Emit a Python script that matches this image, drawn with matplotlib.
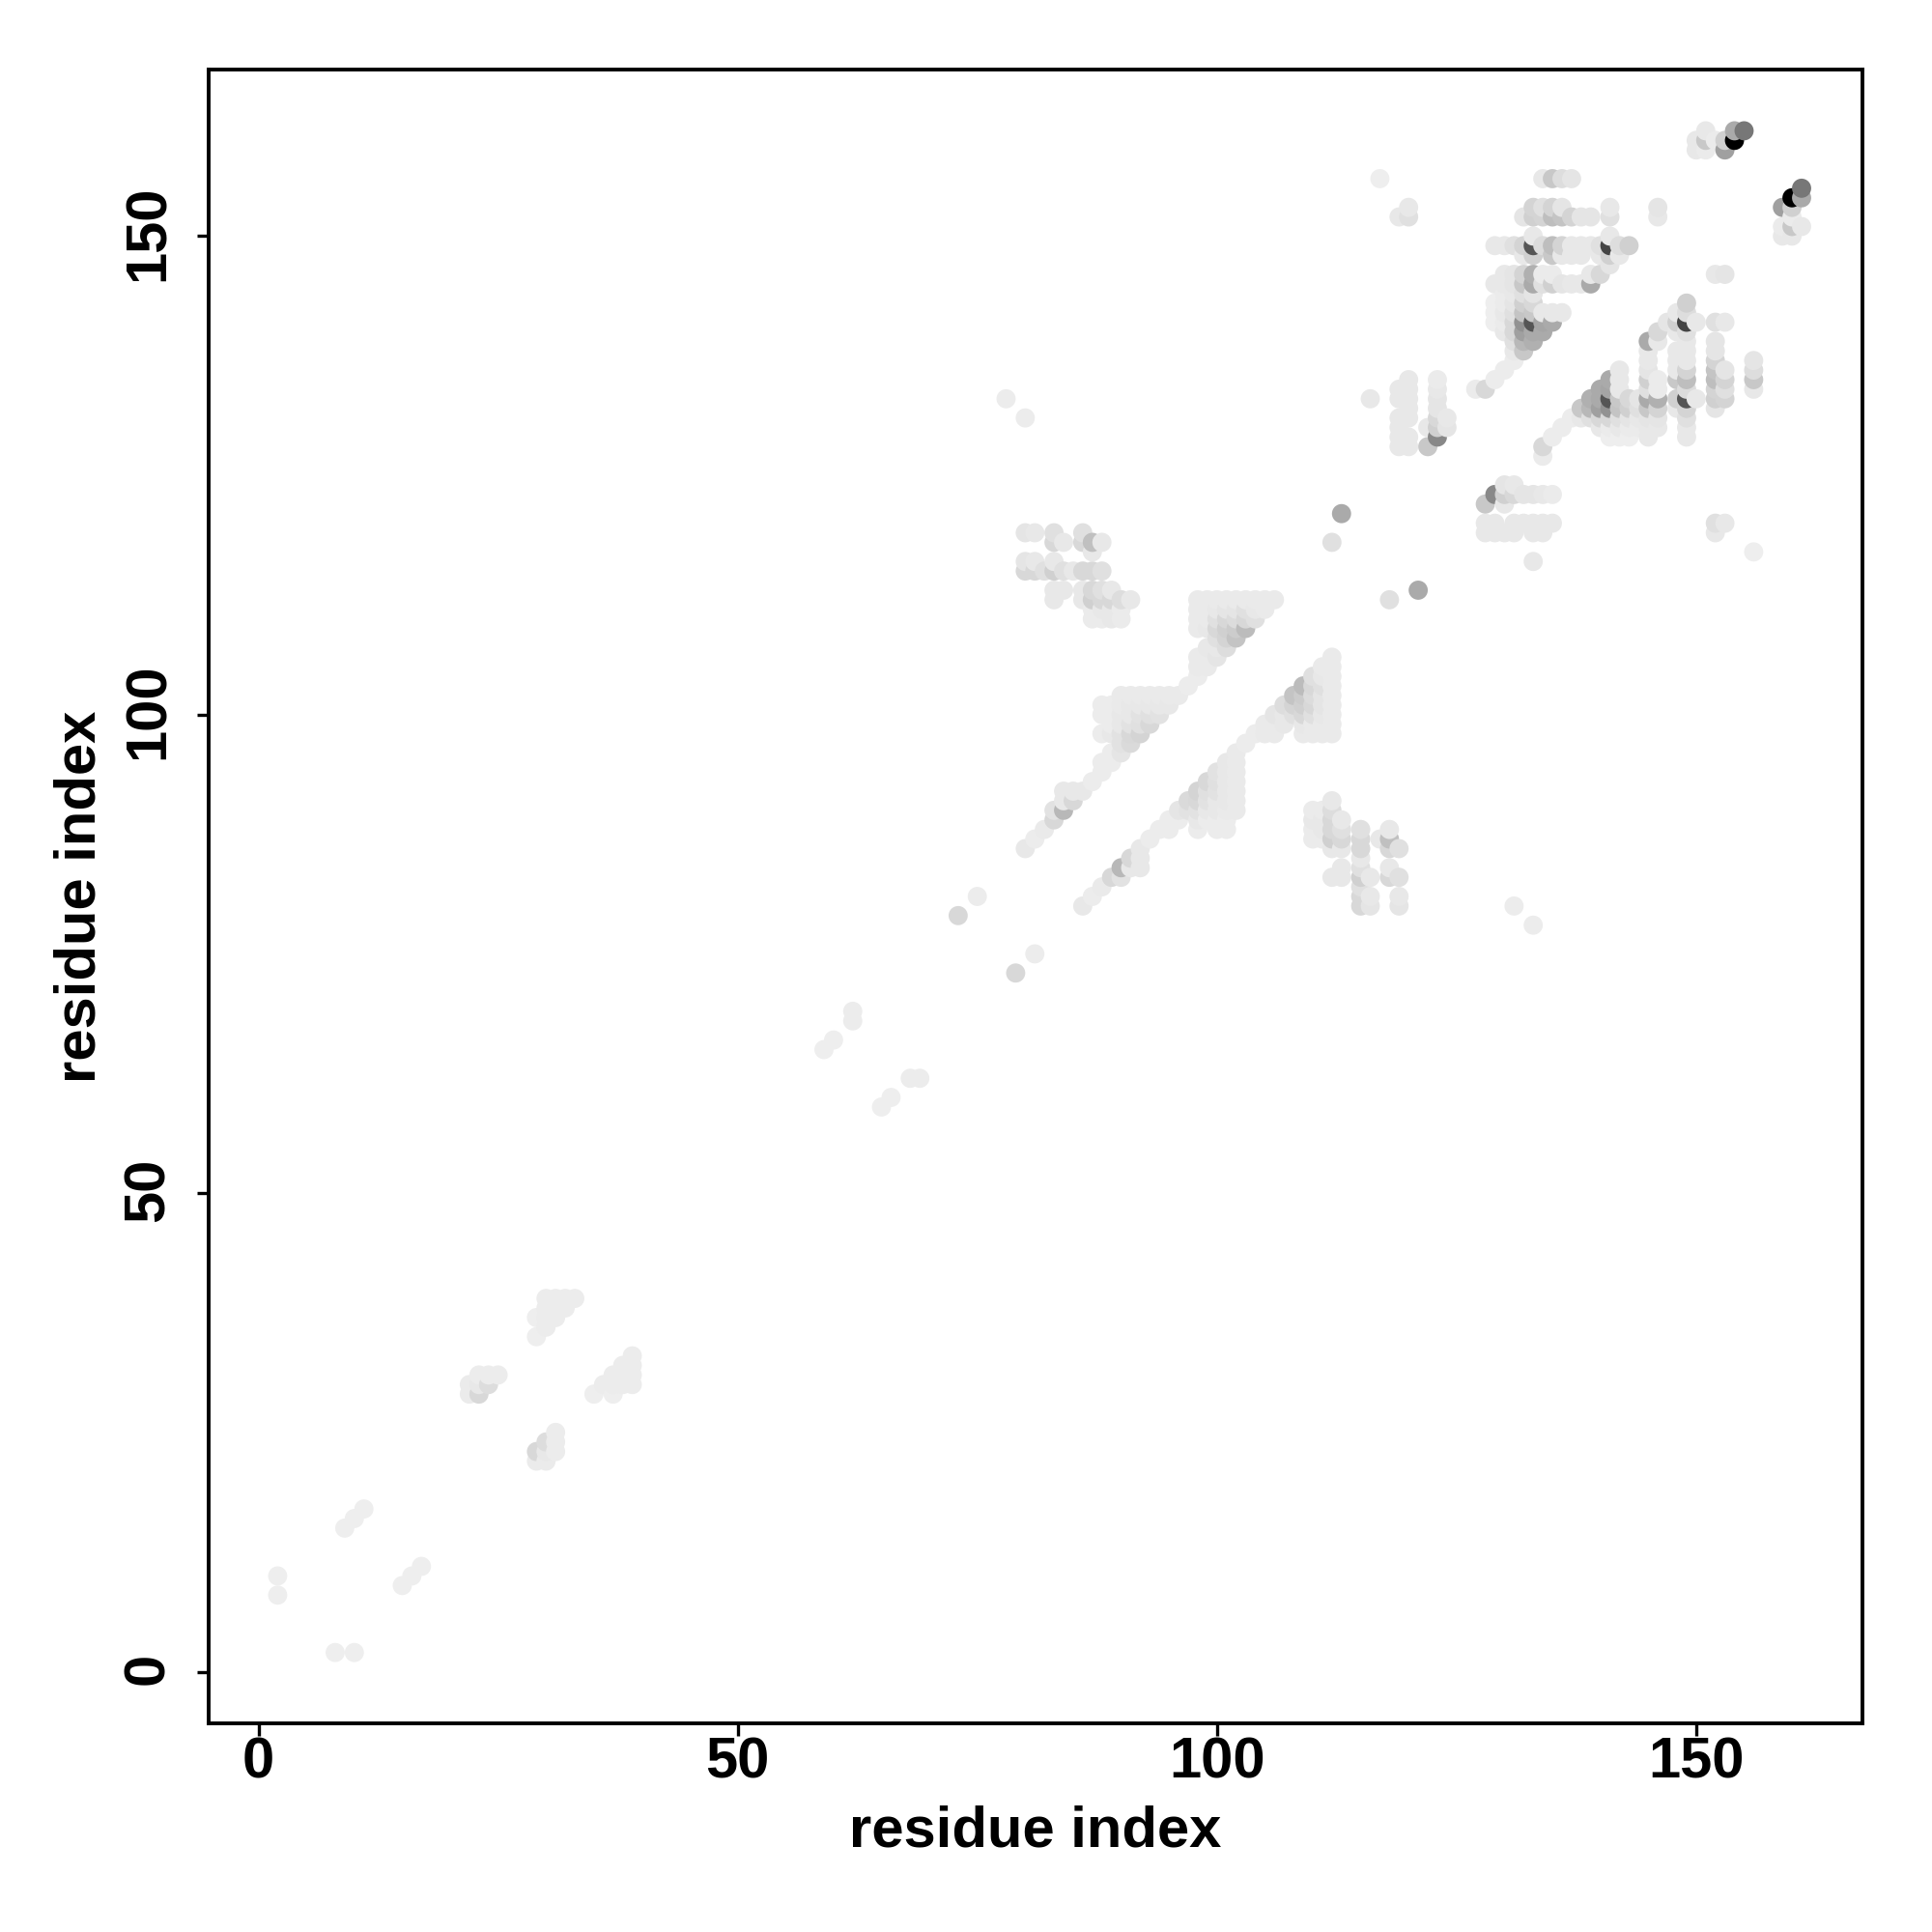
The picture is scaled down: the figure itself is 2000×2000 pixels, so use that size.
#!/usr/bin/env python3
# -*- coding: utf-8 -*-
"""Residue contact map, grey level = contact strength."""

import numpy as np
import matplotlib
matplotlib.use("Agg")
import matplotlib.pyplot as plt
from matplotlib.transforms import ScaledTranslation

# each row: (j, residues i paired with j, grey levels 0-255), only i < j is listed
rows_start = [
    (8, [2], [238]), (10, [2], [238]),
    (15, [9], [238]), (16, [10], [238]), (17, [11], [238]),
    (29, [22, 23], [235, 216]),
    (30, [22, 23, 24], [235, 232, 221]),
    (31, [23, 24, 25], [236, 236, 236]),
    (35, [29], [238]), (36, [30], [236]),
    (37, [29, 30, 31], [238, 236, 236]),
    (38, [30, 31, 32], [236, 236, 236]),
    (39, [30, 31, 32, 33], [236, 236, 236, 236]),
]

rows_far = [
    (65, [59], [238]), (66, [60], [238]),
    (68, [62], [236]), (69, [62], [236]),
    (79, [73], [216]), (81, [75], [236]),
    (118, [112], [224]), (121, [113], [170]),
    (131, [80], [236]), (133, [78, 116], [236, 232]),
    (156, [117], [238]),
]

rows_helix = [
    (86, [80], [232]), (87, [81], [236]), (88, [82], [234]),
    (89, [83], [216]), (90, [83, 84], [226, 184]),
    (91, [84, 85], [232, 216]), (92, [84, 85, 86], [232, 232, 232]),
    (93, [87], [236]), (94, [88], [236]),
    (95, [88, 89], [236, 236]), (96, [89, 90], [236, 229]),
    (97, [90, 91], [226, 218]),
    (98, [88, 89, 90, 91, 92], [236, 232, 226, 216, 212]),
    (99, [89, 90, 91, 92, 93], [236, 232, 226, 224, 216]),
    (100, [88, 89, 90, 91, 92, 93, 94], [236, 236, 232, 232, 226, 224, 226]),
    (101, [88, 89, 90, 91, 92, 93, 94, 95], [236, 236, 234, 232, 232, 232, 232, 232]),
    (102, [90, 91, 92, 93, 94, 95, 96], [234, 234, 234, 234, 234, 234, 234]),
    (103, [97], [236]), (104, [98], [236]),
    (105, [98, 99], [234, 234]),
    (106, [98, 99, 100], [234, 234, 229]),
    (107, [99, 100, 101], [232, 232, 221]),
    (108, [100, 101, 102], [224, 212, 196]),
    (109, [98, 99, 100, 101, 102, 103], [234, 232, 216, 208, 204, 188]),
    (110, [98, 99, 100, 101, 102, 103, 104], [234, 234, 224, 216, 220, 216, 224]),
    (111, [98, 99, 100, 101, 102, 103, 104, 105], [234, 234, 232, 229, 229, 224, 232, 234]),
    (112, [98, 99, 100, 101, 102, 103, 104, 105, 106], [234, 234, 234, 234, 234, 234, 234, 234, 234]),
]

rows_sheet = [
    (110, [87, 88, 89, 90], [235, 235, 232, 235]),
    (111, [87, 88, 89, 90], [235, 232, 232, 235]),
    (112, [83, 86, 87, 88, 89, 90, 91], [232, 232, 208, 216, 216, 221, 232]),
    (113, [83, 84, 86, 87, 88, 89], [232, 232, 232, 216, 224, 232]),
    (115, [80, 81, 82, 83, 84, 85, 86, 87, 88], [216, 216, 224, 208, 224, 232, 216, 216, 224]),
    (116, [80, 81, 83], [229, 232, 232]),
    (117, [87], [232]),
    (118, [83, 84, 86, 87, 88], [216, 232, 216, 192, 232]),
    (119, [80, 81, 83, 86], [229, 232, 224, 224]),
]

rows_side = [
    (128, [119, 120, 122], [232, 232, 200]),
    (129, [119, 120, 123], [232, 232, 136]),
    (130, [119, 122, 123, 124], [232, 232, 208, 229]),
    (131, [119, 120, 123, 124], [232, 232, 216, 232]),
    (132, [120, 123], [232, 229]),
    (133, [119, 120, 123], [232, 232, 229]),
    (134, [119, 120, 123], [232, 232, 232]),
    (135, [120, 123], [232, 235]),
    (152, [119, 120], [232, 224]),
    (153, [120], [232]),
]

rows_block = [
    (134, [127, 128], [235, 216]),
    (135, [129], [236]), (136, [130], [236]), (137, [131], [236]),
    (138, [131, 132], [232, 200]),
    (139, [131, 132, 133], [224, 184, 176]),
    (140, [130, 131, 132, 133, 134], [232, 216, 160, 170, 170]),
    (141, [129, 130, 131, 132, 133, 134, 135], [238, 235, 216, 146, 85, 165, 170]),
    (142, [129, 130, 131, 132, 133, 134, 135, 136], [238, 232, 224, 196, 200, 232, 232, 232]),
    (143, [129, 130, 131, 132, 133], [238, 235, 229, 208, 216]),
    (144, [130, 131, 132, 133], [235, 232, 224, 229]),
    (145, [129, 130, 131, 132, 133, 134, 135, 136, 137, 138, 139],
     [232, 232, 229, 200, 170, 224, 208, 229, 232, 232, 170]),
    (146, [130, 131, 132, 133, 134, 135, 139, 140], [232, 229, 212, 176, 235, 235, 232, 216]),
    (147, [141], [229]),
    (148, [132, 133, 135, 136, 137, 138, 140, 141, 142],
     [232, 208, 200, 232, 232, 232, 232, 208, 232]),
    (149, [129, 130, 131, 132, 133, 134, 135, 136, 137, 138, 139, 140, 141, 142, 143],
     [232, 232, 224, 212, 85, 220, 190, 212, 232, 232, 232, 224, 68, 221, 208]),
    (150, [133, 141], [232, 232]),
    (152, [132, 133, 134, 135, 136, 137, 138, 139, 141, 146],
     [229, 208, 212, 190, 196, 212, 229, 229, 224, 232]),
    (153, [133, 134, 135, 136, 141, 146], [212, 224, 212, 229, 232, 229]),
    (156, [134, 135, 136, 137], [232, 200, 221, 229]),
]

rows_end = [
    (159, [150, 151, 153], [232, 235, 160]),
    (160, [150, 151, 152, 153, 154], [232, 200, 235, 208, 0]),
    (161, [151, 154, 155], [232, 170, 119]),
]

x_ticks = [0, 50, 100, 150]
y_ticks = [0, 50, 100, 150]

i_all, j_all, g_all = [], [], []
for rows in (rows_start, rows_far, rows_helix, rows_sheet, rows_side, rows_block, rows_end):
    for j, res, grey in rows:
        for i, g in zip(res, grey):
            # the map is symmetric, draw both (i, j) and (j, i)
            i_all += [i, j]
            j_all += [j, i]
            g_all += [g, g]

i_all = np.array(i_all)
j_all = np.array(j_all)
g_all = np.array(g_all) / 255.0

# later residues sit on top of earlier ones
order = np.lexsort((j_all, i_all))

plt.rcParams["font.family"] = ["Liberation Sans", "DejaVu Sans"]
plt.rcParams["font.weight"] = "bold"

fig = plt.figure(figsize=(10, 10), dpi=200)
ax = fig.add_axes([0.108, 0.108, 0.856, 0.856])

ax.scatter(i_all[order], j_all[order], c=g_all[order], cmap="gray", vmin=0, vmax=1,
           s=51, linewidths=0, zorder=2)

ax.set_xlim(-5.2, 167.35)
ax.set_ylim(-5.4, 167.4)
ax.set_xticks(x_ticks)
ax.set_yticks(y_ticks)
ax.tick_params(axis="x", length=4.5, width=1.2, labelsize=21.5, pad=0.5)
ax.tick_params(axis="y", length=4.5, width=1.2, labelsize=21.5, pad=8)
nudge = ScaledTranslation(0, 1.2 / 72, fig.dpi_scale_trans)
for lab in ax.get_yticklabels():
    lab.set_rotation(90)
    lab.set_va("center")
    lab.set_transform(lab.get_transform() + nudge)
for sp in ax.spines.values():
    sp.set_linewidth(1.4)

ax.set_xlabel("residue index", fontsize=21.5, fontweight="bold", labelpad=5.5)
ax.set_ylabel("residue index", fontsize=21.5, fontweight="bold", labelpad=5.5)

fig.savefig("out.png", dpi=200)
